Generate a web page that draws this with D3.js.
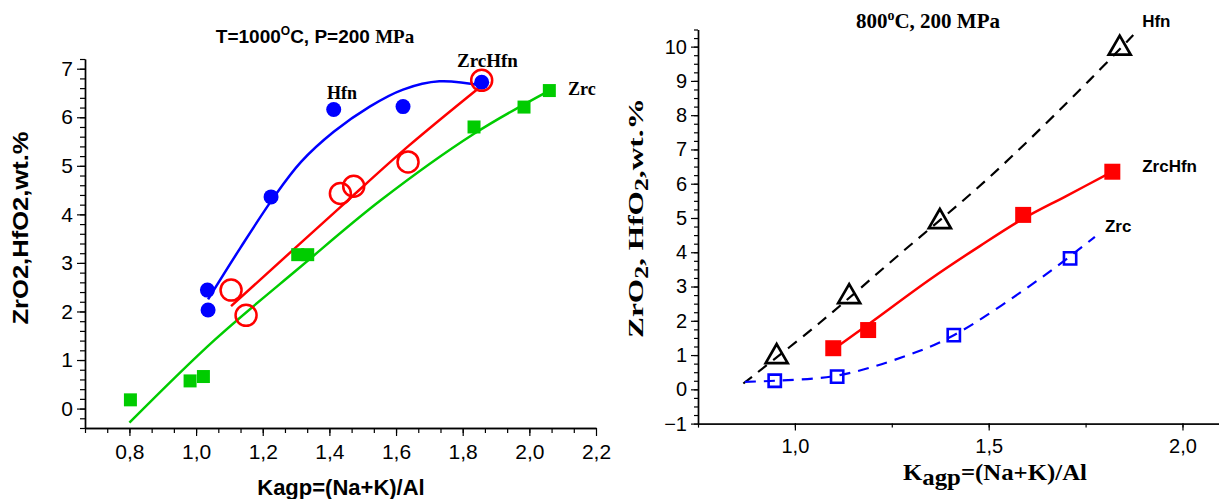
<!DOCTYPE html>
<html>
<head>
<meta charset="utf-8">
<script src="https://cdn.jsdelivr.net/npm/d3@7"></script>
<style>
  body { margin: 0; background: #fff; }
  svg { display: block; }
</style>
</head>
<body>
<svg id="chart" width="1219" height="499"></svg>
<script>
// ---------- Panel A: 1000 °C, 200 MPa ----------
const hfnKagp      = [1.034, 1.036, 1.225, 1.413, 1.621, 1.857];
const hfnOxide     = [2.44, 2.03, 4.36, 6.16, 6.22, 6.72];
const zrcHfnKagp   = [1.105, 1.15, 1.433, 1.473, 1.636, 1.857];
const zrcHfnOxide  = [2.44, 1.92, 4.43, 4.58, 5.08, 6.76];
const zrcKagp      = [0.803, 0.982, 1.022, 1.305, 1.335, 1.834, 1.984, 2.06];
const zrcOxide     = [0.18, 0.57, 0.66, 3.17, 3.17, 5.80, 6.21, 6.55];

// trend curves of panel A
const hfnTrendK    = [1.036, 1.132, 1.233, 1.315, 1.413, 1.521, 1.621, 1.73, 1.868];
const hfnTrendO    = [2.25, 3.30, 4.35, 5.08, 5.70, 6.22, 6.57, 6.74, 6.64];
const zrcHfnTrendK = [1.105, 1.433, 1.636, 1.857];
const zrcHfnTrendO = [2.11, 4.15, 5.40, 6.65];
const zrcTrendK    = [0.8, 1.055, 1.31, 1.554, 1.834, 2.06];
const zrcTrendO    = [-0.29, 1.41, 2.90, 4.29, 5.66, 6.55];

// ---------- Panel B: 800 °C, 200 MPa ----------
const hfn800Kagp     = [0.953, 1.14, 1.374, 1.838];
const hfn800Oxide    = [0.95, 2.70, 4.89, 9.95];
const zrcHfn800Kagp  = [1.099, 1.189, 1.589, 1.819];
const zrcHfn800Oxide = [1.20, 1.73, 5.09, 6.35];
const zrc800Kagp     = [0.948, 1.109, 1.41, 1.71];
const zrc800Oxide    = [0.25, 0.37, 1.58, 3.82];

// trend curves of panel B
const hfn800TrendK    = [0.867, 1.065, 1.271, 1.503, 1.761, 1.873];
const hfn800TrendO    = [0.17, 1.95, 3.95, 6.2, 9.03, 10.34];
const zrcHfn800TrendK = [1.10, 1.19, 1.35, 1.477, 1.589, 1.70, 1.819];
const zrcHfn800TrendO = [1.17, 1.90, 3.22, 4.18, 4.98, 5.64, 6.35];
const zrc800TrendK    = [0.871, 0.948, 1.109, 1.28, 1.41, 1.64, 1.774];
const zrc800TrendO    = [0.22, 0.25, 0.40, 0.95, 1.58, 3.29, 4.45];

// ---------- ticks ----------
const ticksAx      = [0.8, 1.0, 1.2, 1.4, 1.6, 1.8, 2.0, 2.2];
const ticksAy      = [0, 1, 2, 3, 4, 5, 6, 7];
const ticksBx      = [1.0, 1.5, 2.0];
const ticksBy      = [-1, 0, 1, 2, 3, 4, 5, 6, 7, 8, 9, 10];

const SANS  = "'Liberation Sans', Arial, sans-serif";
const SERIF = "'Liberation Serif', 'Times New Roman', serif";
const BLUE = "#0000ff", RED = "#ff0000", GREEN = "#00cc00";

const zip = (xs, ys) => xs.map((x, i) => ({ x, y: ys[i] }));
const comma = d => d3.format(".1f")(d).replace(".", ",");

const svg = d3.select("#chart");
svg.append("rect").attr("width", 1219).attr("height", 499).attr("fill", "#fff");

function drawAxes(g, x, y, o) {
  const minorX = d3.range(o.xMinor[0], o.xMinor[1] + 1e-9, o.xMinor[2]);
  const minorY = d3.range(o.yMinor[0], o.yMinor[1] + 1e-9, o.yMinor[2]);
  const y0 = y.range()[0], x0 = x.range()[0];

  const gxm = g.append("g").attr("transform", `translate(0,${y0})`)
    .call(d3.axisBottom(x).tickValues(minorX).tickSize(o.minorLen).tickFormat("").tickSizeOuter(0));
  const gym = g.append("g").attr("transform", `translate(${x0},0)`)
    .call(d3.axisLeft(y).tickValues(minorY).tickSize(o.minorLen).tickFormat("").tickSizeOuter(0));
  const gx = g.append("g").attr("transform", `translate(0,${y0})`)
    .call(d3.axisBottom(x).tickValues(o.xTicks).tickSize(o.majorLen).tickPadding(o.xPad)
      .tickFormat(comma).tickSizeOuter(0));
  const gy = g.append("g").attr("transform", `translate(${x0},0)`)
    .call(d3.axisLeft(y).tickValues(o.yTicks).tickSize(o.majorLen).tickPadding(o.yPad)
      .tickFormat(d3.format("d")).tickSizeOuter(0));

  [gxm, gym, gx, gy].forEach(a => {
    a.selectAll("path.domain").attr("stroke", "#000").attr("stroke-width", 1.4);
    a.selectAll(".tick line").attr("stroke", "#000").attr("stroke-width", 1.2);
  });
  [gx, gy].forEach(a => a.selectAll("text")
    .attr("font-family", SANS).attr("font-size", o.fontSize).attr("fill", "#000"));
}

function trend(g, x, y, pts, color, width, dash) {
  g.append("path")
    .datum(pts)
    .attr("fill", "none")
    .attr("stroke", color)
    .attr("stroke-width", width)
    .attr("stroke-dasharray", dash || null)
    .attr("d", d3.line().x(d => x(d.x)).y(d => y(d.y)).curve(d3.curveCatmullRom.alpha(0.5)));
}

function markers(g, x, y, pts, type, size, fill, stroke, sw) {
  g.selectAll(null).data(pts).join("path")
    .attr("transform", d => `translate(${x(d.x)},${y(d.y)})`)
    .attr("d", d3.symbol(type, size))
    .attr("fill", fill)
    .attr("stroke", stroke)
    .attr("stroke-width", sw);
}

// ================= Panel A =================
{
  const x = d3.scaleLinear([0.6667, 2.2], [85, 596]);
  const y = d3.scaleLinear([-0.4, 7.2], [428, 59]);
  const g = svg.append("g");

  drawAxes(g, x, y, {
    xTicks: ticksAx, yTicks: ticksAy,
    xMinor: [0.6667, 2.2, 1 / 15], yMinor: [-0.4, 7.2, 0.2],
    majorLen: 8, minorLen: 5, xPad: 8, yPad: 4, fontSize: 21
  });

  trend(g, x, y, zip(zrcTrendK, zrcTrendO), GREEN, 2.5);
  trend(g, x, y, zip(zrcHfnTrendK, zrcHfnTrendO), RED, 2.5);
  trend(g, x, y, zip(hfnTrendK, hfnTrendO), BLUE, 2.5);

  markers(g, x, y, zip(zrcKagp, zrcOxide), d3.symbolSquare, 169, GREEN, "none", 0);
  markers(g, x, y, zip(hfnKagp, hfnOxide), d3.symbolCircle, Math.PI * 7.5 * 7.5, BLUE, "none", 0);
  markers(g, x, y, zip(zrcHfnKagp, zrcHfnOxide), d3.symbolCircle, Math.PI * 10.5 * 10.5, "none", RED, 2.5);

  const lab = (t, kx, ky, size) => g.append("text")
    .attr("x", x(kx)).attr("y", y(ky))
    .attr("font-family", SERIF).attr("font-weight", "bold").attr("font-size", size)
    .text(t);
  lab("Hfn", 1.393, 6.38, 18);
  lab("ZrcHfn", 1.783, 7.035, 19);
  lab("Zrc", 2.116, 6.46, 18);

  const title = g.append("text").attr("x", 315).attr("y", 43)
    .attr("text-anchor", "middle").attr("font-weight", "bold").attr("font-size", 19)
    .attr("font-family", SANS);
  title.append("tspan").text("T=1000");
  title.append("tspan").attr("font-size", 12).attr("dy", -8).text("O");
  title.append("tspan").attr("dy", 8).text("C, P=200 ");
  title.append("tspan").attr("font-family", SERIF).text("MPa");

  g.append("text")
    .attr("transform", "translate(28,228) rotate(-90)")
    .attr("text-anchor", "middle")
    .attr("font-family", SANS).attr("font-weight", "bold").attr("font-size", 22)
    .attr("textLength", 193).attr("lengthAdjust", "spacingAndGlyphs")
    .text("ZrO2,HfO2,wt.%");

  g.append("text")
    .attr("x", 341).attr("y", 495)
    .attr("text-anchor", "middle")
    .attr("font-family", SANS).attr("font-weight", "bold").attr("font-size", 22)
    .text("Kagp=(Na+K)/Al");
}

// ================= Panel B =================
{
  const x = d3.scaleLinear([0.75, 2.1097], [698, 1225]);
  const y = d3.scaleLinear([-1, 10.5], [423.6, 29.5]);
  const g = svg.append("g");

  drawAxes(g, x, y, {
    xTicks: ticksBx, yTicks: ticksBy,
    xMinor: [0.75, 2.1, 0.25], yMinor: [-1, 10.5, 0.25],
    majorLen: 7, minorLen: 4, xPad: 8, yPad: 4, fontSize: 20
  });

  trend(g, x, y, zip(hfn800TrendK, hfn800TrendO), "#000", 2.2, "11,8");
  trend(g, x, y, zip(zrc800TrendK, zrc800TrendO), BLUE, 2.2, "11,8");
  trend(g, x, y, zip(zrcHfn800TrendK, zrcHfn800TrendO), RED, 2.5);

  markers(g, x, y, zip(hfn800Kagp, hfn800Oxide), d3.symbolTriangle, 210, "none", "#000", 2.7);
  markers(g, x, y, zip(zrcHfn800Kagp, zrcHfn800Oxide), d3.symbolSquare, 256, RED, "none", 0);
  markers(g, x, y, zip(zrc800Kagp, zrc800Oxide), d3.symbolSquare, 150, "none", BLUE, 2.6);

  const lab = (t, kx, ky) => g.append("text")
    .attr("x", x(kx)).attr("y", y(ky))
    .attr("font-family", SANS).attr("font-weight", "bold").attr("font-size", 17)
    .text(t);
  lab("Hfn", 1.896, 10.57);
  lab("ZrcHfn", 1.896, 6.35);
  lab("Zrc", 1.80, 4.6);

  const title = g.append("text").attr("x", 928).attr("y", 28)
    .attr("text-anchor", "middle").attr("font-weight", "bold").attr("font-size", 21)
    .attr("font-family", SERIF);
  title.append("tspan").text("800");
  title.append("tspan").attr("font-size", 14).attr("dy", -8).text("o");
  title.append("tspan").attr("dy", 8).text("C, 200 MPa");

  const yl = g.append("text")
    .attr("transform", "translate(643,218) rotate(-90)")
    .attr("text-anchor", "middle")
    .attr("font-family", SERIF).attr("font-weight", "bold").attr("font-size", 22)
    .attr("textLength", 240).attr("lengthAdjust", "spacingAndGlyphs");
  yl.append("tspan").text("ZrO");
  yl.append("tspan").attr("font-size", 18).attr("dy", 5).text("2");
  yl.append("tspan").attr("dy", -5).text(", HfO");
  yl.append("tspan").attr("font-size", 18).attr("dy", 5).text("2");
  yl.append("tspan").attr("dy", -5).text(",wt.%");

  const xl = g.append("text")
    .attr("x", 903).attr("y", 480)
    .attr("font-family", SERIF).attr("font-weight", "bold").attr("font-size", 23)
    .attr("textLength", 184).attr("lengthAdjust", "spacingAndGlyphs");
  xl.append("tspan").text("K");
  xl.append("tspan").attr("dy", 5).text("agp");
  xl.append("tspan").attr("dy", -5).text("=(Na+K)/Al");
}
</script>
</body>
</html>
